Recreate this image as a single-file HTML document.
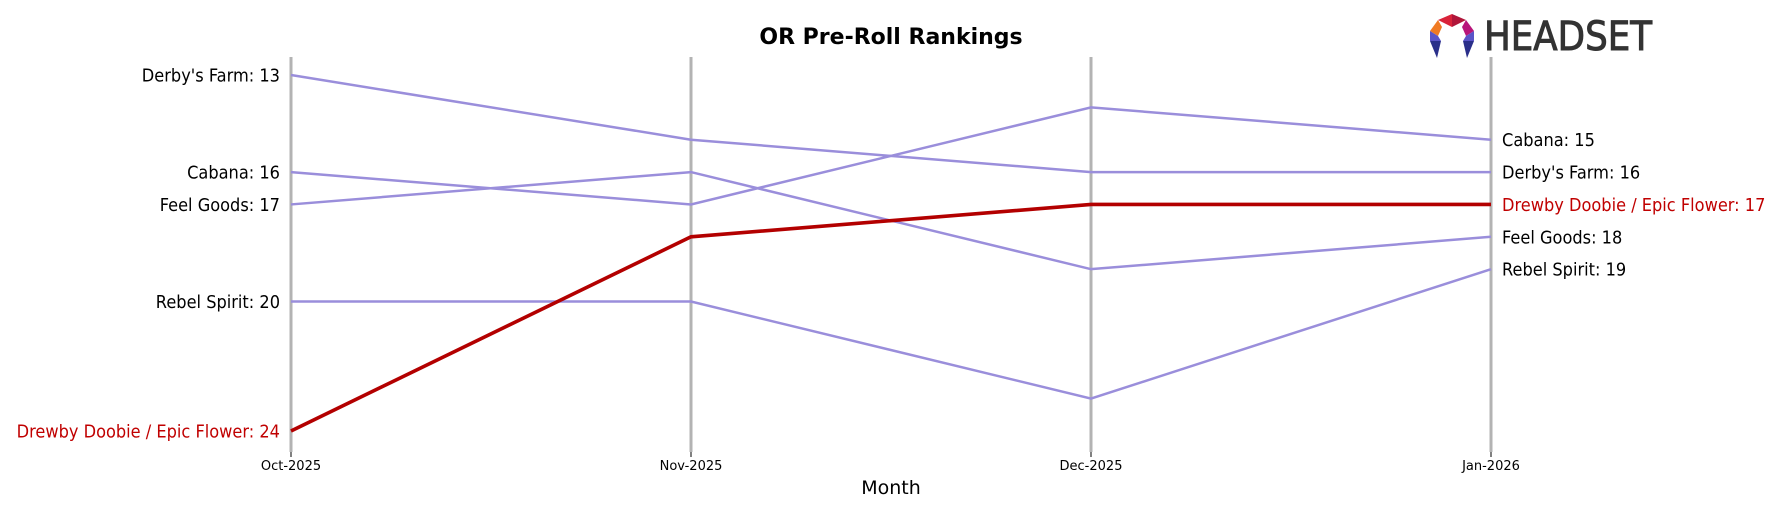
<!DOCTYPE html>
<html><head><meta charset="utf-8"><style>
body{margin:0;background:#fff;}
svg text{font-family:"DejaVu Sans","Liberation Sans",sans-serif;}
</style></head><body>
<svg id="chart" width="1782" height="507" viewBox="0 0 1782 507" xmlns="http://www.w3.org/2000/svg">
<text x="891" y="44" font-size="22" font-weight="bold" text-anchor="middle">OR Pre-Roll Rankings</text>
<g>
<polygon points="1452,14 1466,20 1452,27" fill="#b0163a"/>
<polygon points="1452,14 1438,20 1452,27" fill="#d9233a"/>
<polygon points="1466,20 1474,31 1466,36 1462,27" fill="#b8157a"/>
<polygon points="1438,20 1430,31 1438,36 1442,27" fill="#f07a23"/>
<polygon points="1430,41 1441,41 1438,36 1430,31" fill="#5a54c8"/>
<polygon points="1474,41 1463,41 1466,36 1474,31" fill="#5a54c8"/>
<polygon points="1430,41 1441,41 1437,58" fill="#2a2f8a"/>
<polygon points="1474,41 1463,41 1467,58" fill="#2a2f8a"/>
<text x="1484" y="50" font-size="40" fill="#333" stroke="#333" stroke-width="1" textLength="168" lengthAdjust="spacingAndGlyphs" font-family="Liberation Sans, sans-serif">HEADSET</text>
</g>
<g id="axes"></g>
<g id="lines"></g>
<g id="labels"></g>
<text x="891" y="494" font-size="19" text-anchor="middle">Month</text>
</svg>
<script>
const months = ["Oct-2025","Nov-2025","Dec-2025","Jan-2026"];
const brands = ["Derby's Farm","Cabana","Feel Goods","Rebel Spirit","Drewby Doobie / Epic Flower"];
const derbyRanks = [13,15,16,16];
const cabanaRanks = [16,17,14,15];
const feelGoodsRanks = [17,16,19,18];
const rebelRanks = [20,20,23,19];
const drewbyRanks = [24,18,17,17];
const seriesRanks = [derbyRanks,cabanaRanks,feelGoodsRanks,rebelRanks,drewbyRanks];
const highlight = 4;

const NS="http://www.w3.org/2000/svg";
const xScale = i => 291 + i*400;
const yScale = r => 75 + (r-13)*32.36;
function mk(tag, attrs, parent){const e=document.createElementNS(NS,tag);for(const k in attrs)e.setAttribute(k,attrs[k]);parent.appendChild(e);return e;}
function squeeze(t){const w=t.getComputedTextLength();t.setAttribute('textLength',(w*0.9).toFixed(1));t.setAttribute('lengthAdjust','spacingAndGlyphs');}
const axes=document.getElementById('axes'), lines=document.getElementById('lines'), labels=document.getElementById('labels');
months.forEach((m,i)=>{
  const x=xScale(i);
  const l=mk('line',{x1:x,x2:x,y1:57,y2:452,stroke:'#b3b3b3','stroke-width':3},axes);
  
  
  const t=mk('line',{x1:x,x2:x,y1:452,y2:457,stroke:'#000','stroke-width':1},axes);
  
  
  const tx=mk('text',{x:x,y:470,'font-size':13,'text-anchor':'middle'},axes);
  tx.textContent=m;
  
  
});
seriesRanks.forEach((ranks,s)=>{
  const hl=s===highlight;
  const pts=ranks.map((r,i)=>xScale(i)+','+yScale(r)).join(' ');
  const p=mk('polyline',{points:pts,fill:'none',stroke:hl?'#b30000':'#9a8edb','stroke-width':hl?3.6:2.5},lines);
  
  
  const col=hl?'#c00000':'#000';
  const a=mk('text',{x:xScale(0)-11,y:yScale(ranks[0])+6.5,'font-size':18,'text-anchor':'end',fill:col},labels);
  a.textContent=brands[s]+': '+ranks[0];
  
  
  squeeze(a);
  const n=ranks.length-1;
  const b=mk('text',{x:xScale(n)+11,y:yScale(ranks[n])+6.5,'font-size':18,fill:col},labels);
  b.textContent=brands[s]+': '+ranks[n];
  
  
  squeeze(b);
});
</script>
</body></html>
